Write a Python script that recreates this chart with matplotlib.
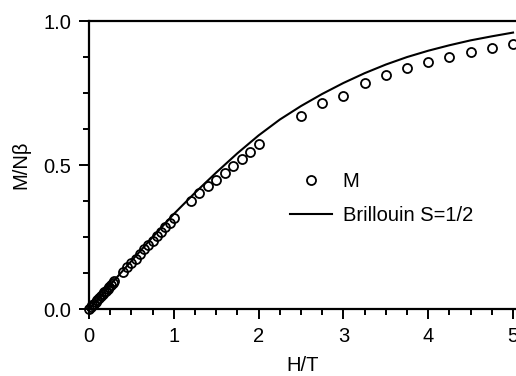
import numpy as np
import matplotlib.pyplot as plt
from matplotlib.ticker import MultipleLocator

plt.rcParams['font.family'] = ['Liberation Sans', 'DejaVu Sans']

# measured points (M/Nbeta vs H/T)
h_data = [0.0, 0.02, 0.04, 0.06, 0.08, 0.10, 0.12, 0.14, 0.16, 0.18, 0.20,
          0.22, 0.24, 0.26, 0.28, 0.30,
          0.40, 0.45, 0.50, 0.55, 0.60, 0.65, 0.70, 0.75, 0.80, 0.85, 0.90,
          0.95, 1.00,
          1.20, 1.30, 1.40, 1.50, 1.60, 1.70, 1.80, 1.90, 2.00,
          2.50, 2.75, 3.00, 3.25, 3.50, 3.75, 4.00, 4.25, 4.50, 4.75, 5.00]
m_data = [0.0, 0.006, 0.013, 0.019, 0.026, 0.032, 0.038, 0.045, 0.051, 0.058,
          0.064, 0.070, 0.077, 0.083, 0.090, 0.096,
          0.130, 0.145, 0.160, 0.175, 0.191, 0.207, 0.222, 0.237, 0.253,
          0.268, 0.284, 0.299, 0.315,
          0.375, 0.402, 0.427, 0.448, 0.473, 0.497, 0.520, 0.546, 0.573,
          0.672, 0.714, 0.740, 0.785, 0.811, 0.838, 0.859, 0.876, 0.892,
          0.905, 0.919]

# Brillouin S=1/2 curve
h_fit = [0.0, 0.25, 0.5, 0.75, 1.0, 1.25, 1.5, 1.75, 2.0, 2.25, 2.5, 2.75,
         3.0, 3.25, 3.5, 3.75, 4.0, 4.25, 4.5, 4.75, 5.0]
m_fit = [0.0, 0.084, 0.167, 0.250, 0.330, 0.404, 0.474, 0.541, 0.603, 0.658,
         0.705, 0.747, 0.785, 0.819, 0.849, 0.875, 0.897, 0.916, 0.933,
         0.947, 0.960]

fig = plt.figure(figsize=(5.16, 3.76), dpi=100)
ax = fig.add_axes([0.1725, 0.178, 0.8275, 0.766])

ax.plot(h_data, m_data, 'o', mfc='none', mec='black', ms=6.5, mew=1.3,
        clip_on=False, label='M')
ax.plot(h_fit, m_fit, '-', color='black', lw=1.5, label='Brillouin S=1/2')

ax.set_xlim(0, 5.035)
ax.set_ylim(0, 1.0)
ax.xaxis.set_major_locator(MultipleLocator(1))
ax.xaxis.set_minor_locator(MultipleLocator(0.25))
ax.yaxis.set_major_locator(MultipleLocator(0.5))
ax.yaxis.set_minor_locator(MultipleLocator(0.125))
ax.yaxis.set_major_formatter(plt.FormatStrFormatter('%.1f'))

ax.spines['right'].set_visible(False)
for s in ['left', 'bottom', 'top']:
    ax.spines[s].set_linewidth(1.6)
ax.tick_params(which='major', direction='out', length=7, width=1.4,
               labelsize=14.5, pad=6)
ax.tick_params(which='minor', direction='out', length=4.2, width=1.4)

ax.set_xlabel('H/T', fontsize=14.5, labelpad=7)
ax.set_ylabel('M/N\u03b2', fontsize=14.5, labelpad=9)

ax.legend(loc='center', bbox_to_anchor=(0.685, 0.385), frameon=False,
          fontsize=14.5, handlelength=2.1, labelspacing=0.75,
          handletextpad=0.5)

fig.savefig('out.png', dpi=100)
